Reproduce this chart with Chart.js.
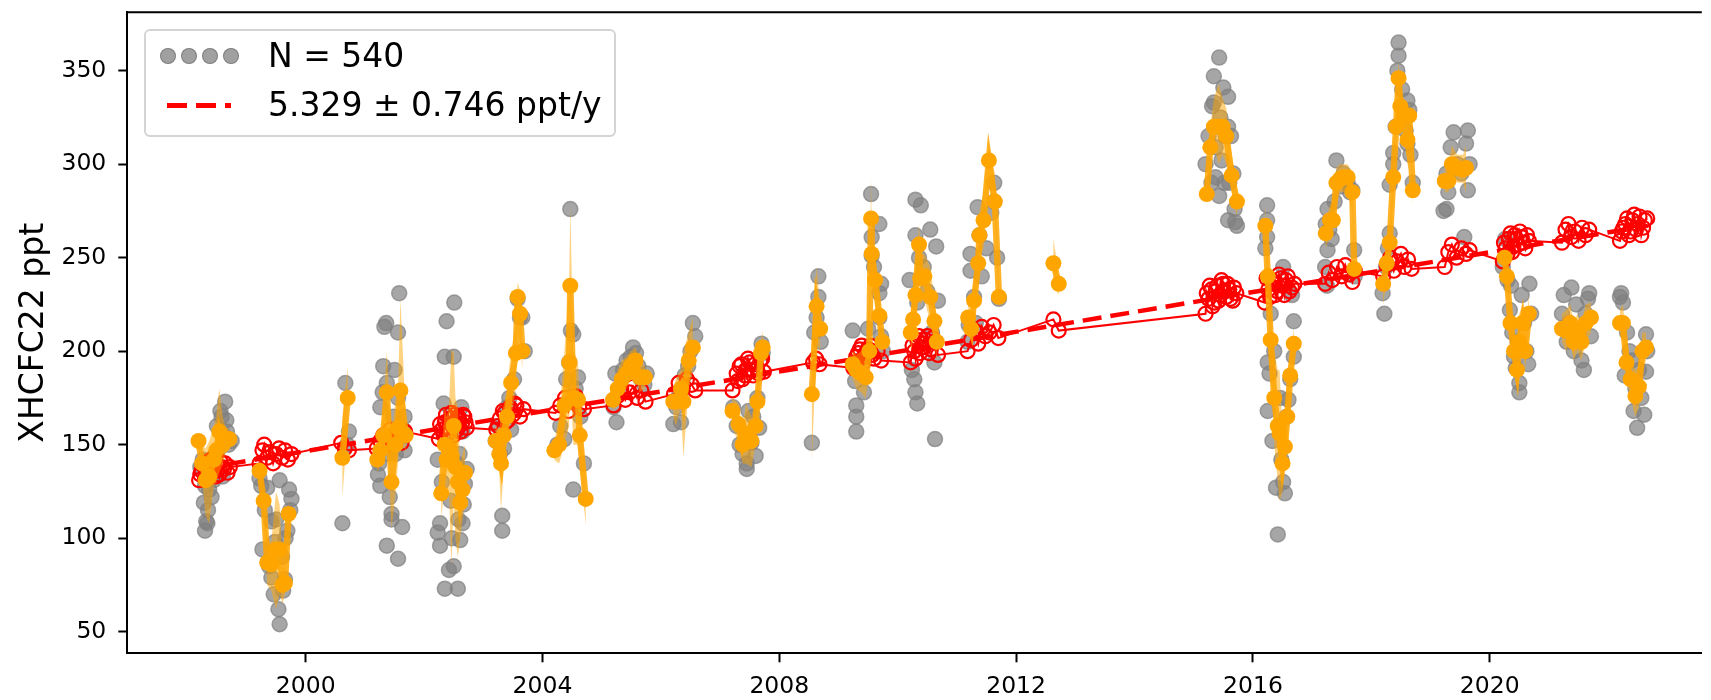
<!DOCTYPE html>
<html>
<head>
<meta charset="utf-8">
<title>XHCFC22 ppt</title>
<script src="https://cdn.jsdelivr.net/npm/chart.js@4.4.1/dist/chart.umd.min.js"></script>
<style>
  html, body { margin: 0; padding: 0; background: #fff; }
  #wrap { position: relative; width: 1711px; height: 700px; overflow: hidden; }
  #legend {
    position: absolute; left: 144px; top: 29px; width: 468px; height: 104px;
    border: 2px solid #d4d4d4; border-radius: 6px; background: rgba(255,255,255,0.8);
    font-family: "DejaVu Sans"; font-size: 33px; color: #000;
  }
  .dot { position: absolute; top: 17px; width: 14px; height: 14px; border-radius: 50%;
         background: rgba(150,150,150,0.9); border: 1px solid rgba(120,120,120,0.9); }
  .dash { position: absolute; left: 21px; top: 72px; width: 64px; height: 5px;
          background: repeating-linear-gradient(to right, #ff0000 0 20px, transparent 20px 29px); }
  .lbl { position: absolute; left: 122px; height: 40px; line-height: 40px; white-space: nowrap; }
</style>
</head>
<body>
<div id="wrap">
  <canvas id="myChart" width="1711" height="700"></canvas>
  <div id="legend">
    <div class="dot" style="left:14px"></div>
    <div class="dot" style="left:35px"></div>
    <div class="dot" style="left:56px"></div>
    <div class="dot" style="left:77px"></div>
    <div class="lbl" id="lbl1" style="top:5px"></div>
    <div class="dash"></div>
    <div class="lbl" id="lbl2" style="top:54px"></div>
  </div>
</div>
<script>
// axis setup
const xTicks = [2000, 2004, 2008, 2012, 2016, 2020];
const yTicks = [50, 100, 150, 200, 250, 300, 350];
const yTitle = 'XHCFC22 ppt';
const legendLabels = ['N = 540', '5.329 \u00b1 0.746 ppt/y'];

// individual measurements (grey)  [year, ppt]
const greyPoints = [
  [1998.28,119],[1998.30,104],[1998.32,109],[1998.34,108],[1998.22,138],[1998.26,142],[1998.30,128],[1998.37,126],
  [1998.41,122],[1998.45,131],[1998.48,145],[1998.52,147],[1998.56,168],[1998.60,133],[1998.64,173],[1998.66,163],
  [1998.67,157],[1998.70,150],[1998.75,152],[1998.50,160],[1998.58,165],[1998.62,155],[1998.40,135],[1998.35,115],
  [1999.22,132],[1999.25,128],[1999.27,94],[1999.31,115],[1999.35,127],[1999.38,85],[1999.42,79],[1999.42,109],
  [1999.46,70],[1999.50,110],[1999.54,62],[1999.56,54],[1999.56,131],[1999.60,90],[1999.62,72],[1999.65,78],
  [1999.69,104],[1999.72,126],[1999.76,121],[1999.74,115],[1999.48,98],[1999.66,100],
  [2000.62,108],[2000.67,183],[2000.73,157],[2000.70,150],
  [2001.22,134],[2001.24,140],[2001.26,128],[2001.26,170],[2001.30,178],[2001.31,192],[2001.33,213],[2001.36,215],
  [2001.37,183],[2001.37,96],[2001.40,145],[2001.45,113],[2001.45,110],[2001.48,165],[2001.52,145],[2001.56,89],
  [2001.56,175],[2001.56,210],[2001.58,231],[2001.63,106],[2001.67,165],[2001.67,147],[2001.65,158],[2001.42,122],[2001.50,190],
  [2002.23,142],[2002.23,103],[2002.27,108],[2002.27,96],[2002.30,130],[2002.33,172],[2002.35,197],[2002.35,73],
  [2002.38,216],[2002.40,150],[2002.42,83],[2002.45,120],[2002.50,85],[2002.50,197],[2002.51,226],[2002.55,140],
  [2002.57,73],[2002.58,110],[2002.61,99],[2002.63,170],[2002.65,108],[2002.65,157],[2002.69,129],[2002.72,137],
  [2002.47,100],[2002.60,145],[2002.67,118],[2002.53,162],
  [2003.21,152],[2003.24,160],[2003.28,145],[2003.32,112],[2003.32,104],[2003.35,148],[2003.40,170],[2003.47,158],
  [2003.52,185],[2003.58,228],[2003.62,218],[2003.66,218],[2003.70,200],[2003.44,175],
  [2004.25,150],[2004.30,160],[2004.37,153],[2004.40,185],[2004.45,194],[2004.47,276],[2004.48,211],[2004.52,209],
  [2004.52,126],[2004.56,180],[2004.60,186],[2004.64,165],[2004.70,140],
  [2005.20,170],[2005.23,188],[2005.25,162],[2005.30,178],[2005.36,190],[2005.42,195],[2005.49,197],[2005.53,202],
  [2005.58,199],[2005.62,192],[2005.66,185],[2005.72,182],[2005.76,188],
  [2006.21,161],[2006.26,170],[2006.31,177],[2006.34,162],[2006.40,187],[2006.46,192],[2006.50,200],[2006.54,215],[2006.58,208],
  [2007.22,170],[2007.28,160],[2007.33,150],[2007.38,145],[2007.45,137],[2007.45,140],[2007.49,155],[2007.53,151],
  [2007.56,165],[2007.60,144],[2007.63,175],[2007.66,159],[2007.70,204],[2007.72,199],[2007.48,168],
  [2008.55,151],[2008.59,210],[2008.63,218],[2008.66,229],[2008.66,240],[2008.70,205],
  [2009.24,211],[2009.28,184],[2009.30,157],[2009.30,165],[2009.30,171],[2009.36,195],[2009.43,178],[2009.50,212],
  [2009.55,284],[2009.56,261],[2009.56,251],[2009.60,245],[2009.69,268],[2009.69,231],[2009.69,218],[2009.72,236],
  [2009.72,208],[2009.75,200],
  [2010.20,238],[2010.24,190],[2010.28,185],[2010.30,178],[2010.30,281],[2010.30,262],[2010.33,172],[2010.33,226],
  [2010.36,250],[2010.39,278],[2010.44,245],[2010.50,232],[2010.55,265],[2010.62,194],[2010.63,153],[2010.65,256],
  [2010.68,227],[2010.58,210],
  [2011.18,205],[2011.20,214],[2011.23,252],[2011.23,243],[2011.29,229],[2011.32,215],[2011.35,277],[2011.38,262],
  [2011.42,240],[2011.50,255],[2011.58,274],[2011.63,290],[2011.63,280],[2011.68,250],[2011.71,228],
  [2015.20,300],[2015.25,315],[2015.31,331],[2015.34,347],[2015.34,333],[2015.37,309],[2015.37,293],[2015.41,320],
  [2015.43,357],[2015.43,283],[2015.47,302],[2015.50,341],[2015.54,315],[2015.58,336],[2015.58,320],[2015.58,270],
  [2015.60,290],[2015.63,315],[2015.67,295],[2015.69,276],[2015.70,269],[2015.73,267],[2015.30,290],[2015.45,325],[2015.52,290],
  [2016.21,255],[2016.24,278],[2016.24,270],[2016.24,261],[2016.25,194],[2016.28,188],[2016.25,168],[2016.30,220],
  [2016.33,152],[2016.36,200],[2016.39,127],[2016.42,102],[2016.43,160],[2016.48,142],[2016.51,130],[2016.51,245],
  [2016.54,124],[2016.57,165],[2016.60,174],[2016.63,185],[2016.66,230],[2016.69,216],[2016.69,197],[2016.46,175],
  [2017.22,245],[2017.23,268],[2017.26,276],[2017.26,254],[2017.29,265],[2017.33,260],[2017.38,280],[2017.41,302],
  [2017.47,288],[2017.53,295],[2017.60,290],[2017.64,285],[2017.68,286],[2017.71,254],[2017.72,240],[2017.25,235],
  [2018.19,231],[2018.22,220],[2018.25,245],[2018.31,263],[2018.31,289],[2018.37,306],[2018.37,300],[2018.41,320],
  [2018.44,350],[2018.46,365],[2018.46,358],[2018.52,340],[2018.58,318],[2018.61,334],[2018.61,311],[2018.64,329],
  [2018.66,305],[2018.70,290],[2018.28,255],
  [2019.22,275],[2019.27,295],[2019.27,276],[2019.30,285],[2019.34,309],[2019.39,317],[2019.45,300],[2019.52,295],
  [2019.57,261],[2019.60,311],[2019.63,318],[2019.63,286],[2019.66,300],
  [2020.22,245],[2020.26,260],[2020.30,238],[2020.34,222],[2020.38,210],[2020.41,197],[2020.44,191],[2020.47,205],
  [2020.50,183],[2020.50,178],[2020.54,230],[2020.58,215],[2020.62,200],[2020.65,193],[2020.67,236],[2020.70,220],[2020.36,235],
  [2021.22,220],[2021.25,230],[2021.30,205],[2021.34,215],[2021.38,234],[2021.42,200],[2021.46,225],[2021.50,210],
  [2021.55,195],[2021.59,190],[2021.62,220],[2021.66,228],[2021.68,231],[2021.71,208],
  [2022.20,229],[2022.22,231],[2022.25,226],[2022.28,187],[2022.32,210],[2022.36,200],[2022.40,195],[2022.43,168],
  [2022.46,180],[2022.49,159],[2022.52,190],[2022.56,175],[2022.61,166],[2022.64,189],[2022.64,209],[2022.66,200]
];

// daily means with spread, one list per campaign  [year, mean, low, high]
const orangeCampaigns = [
  [[1998.19,152,148,156],[1998.25,140,132,150],[1998.31,131,112,148],[1998.37,133,108,152],[1998.45,142,128,160],
   [1998.49,147,130,165],[1998.54,157,135,180],[1998.60,150,140,165],[1998.64,152,145,160],[1998.71,153,148,158]],
  [[1999.22,136,130,142],[1999.29,120,110,130],[1999.35,87,75,100],[1999.42,86,72,98],[1999.50,94,62,125],
   [1999.56,94,70,118],[1999.61,75,65,85],[1999.65,76,70,84],[1999.71,113,105,122]],
  [[2000.62,143,122,165],[2000.71,175,160,192]],
  [[2001.21,142,135,150],[2001.26,147,140,155],[2001.31,155,145,168],[2001.37,178,160,200],[2001.45,130,105,155],
   [2001.52,150,125,175],[2001.56,159,140,180],[2001.60,179,160,228],[2001.69,155,145,165]],
  [[2002.29,124,110,140],[2002.35,150,130,170],[2002.38,142,120,165],[2002.42,147,125,170],[2002.46,144,85,200],
   [2002.50,160,120,200],[2002.53,138,100,175],[2002.57,130,90,170],[2002.61,119,100,140],[2002.65,126,110,145],
   [2002.69,135,120,150]],
  [[2003.21,152,145,160],[2003.27,145,135,158],[2003.30,140,115,165],[2003.35,155,140,172],[2003.40,165,150,180],
   [2003.47,183,165,200],[2003.55,199,180,215],[2003.58,229,210,237],[2003.62,220,205,232],[2003.66,200,190,210]],
  [[2004.20,147,142,152],[2004.28,150,140,165],[2004.37,171,150,200],[2004.45,194,160,235],[2004.47,235,190,278],
   [2004.52,175,150,200],[2004.60,174,150,195],[2004.63,155,140,170],[2004.73,121,107,135]],
  [[2005.19,174,168,180],[2005.27,180,172,190],[2005.34,185,178,195],[2005.42,188,180,197],[2005.49,192,185,200],
   [2005.57,195,188,202],[2005.64,186,178,195],[2005.73,186,180,192]],
  [[2006.21,173,165,180],[2006.25,173,160,185],[2006.34,180,170,190],[2006.38,173,143,200],[2006.47,195,180,210],
   [2006.54,202,190,218]],
  [[2007.21,168,160,175],[2007.31,161,150,172],[2007.38,150,140,160],[2007.44,156,140,172],[2007.53,152,138,165],
   [2007.60,160,150,175],[2007.63,173,160,185],[2007.69,199,190,205],[2007.72,202,195,211]],
  [[2008.55,177,141,210],[2008.63,224,205,245],[2008.69,212,200,225]],
  [[2009.24,193,185,200],[2009.30,190,180,198],[2009.38,188,178,200],[2009.46,186,175,195],[2009.52,200,190,230],
   [2009.55,271,250,293],[2009.56,252,240,265],[2009.62,238,225,250],[2009.69,219,210,230],[2009.74,205,195,215]],
  [[2010.22,210,200,220],[2010.26,217,205,230],[2010.30,230,215,245],[2010.36,257,240,268],[2010.38,239,225,252],
   [2010.45,240,228,252],[2010.55,229,215,245],[2010.62,216,205,228],[2010.66,205,195,215]],
  [[2011.19,218,210,226],[2011.24,212,205,220],[2011.29,227,215,240],[2011.36,247,235,260],[2011.38,262,250,275],
   [2011.45,270,255,285],[2011.54,302,290,310],[2011.64,280,270,295],[2011.71,229,222,236]],
  [[2012.63,247,235,260],[2012.72,236,230,242]],
  [[2015.22,284,278,290],[2015.28,309,300,320],[2015.34,320,310,335],[2015.42,320,300,343],[2015.49,320,305,335],
   [2015.55,315,300,330],[2015.64,294,285,305],[2015.73,280,272,290]],
  [[2016.21,267,255,278],[2016.25,240,225,255],[2016.30,206,190,222],[2016.36,175,150,200],[2016.42,160,130,190],
   [2016.45,156,120,190],[2016.50,140,125,155],[2016.54,149,135,165],[2016.58,165,150,180],[2016.63,187,175,200],
   [2016.69,204,195,212]],
  [[2017.23,263,255,270],[2017.30,270,262,278],[2017.35,270,262,280],[2017.41,290,280,298],[2017.47,292,285,300],
   [2017.53,293,285,300],[2017.60,293,285,300],[2017.68,285,275,295],[2017.71,244,238,250]],
  [[2018.20,236,225,248],[2018.26,247,238,258],[2018.31,258,248,268],[2018.37,293,280,305],[2018.42,320,305,335],
   [2018.46,346,335,355],[2018.49,331,320,342],[2018.55,326,315,335],[2018.61,313,305,322],[2018.64,326,318,334],
   [2018.70,286,278,294]],
  [[2019.24,291,285,298],[2019.30,291,285,298],[2019.36,300,292,310],[2019.45,298,290,305],[2019.55,297,290,305],
   [2019.60,298,285,310]],
  [[2020.25,250,245,255],[2020.29,240,230,250],[2020.35,215,205,225],[2020.41,200,190,210],[2020.46,190,180,200],
   [2020.50,205,185,220],[2020.55,215,205,225],[2020.60,200,190,210],[2020.66,220,210,230]],
  [[2021.22,212,205,220],[2021.29,211,200,222],[2021.36,215,205,225],[2021.42,205,195,215],[2021.48,210,200,220],
   [2021.55,205,195,215],[2021.62,215,205,225],[2021.71,218,210,226]],
  [[2022.20,215,208,222],[2022.25,215,205,225],[2022.31,194,185,205],[2022.38,185,175,195],[2022.46,176,165,190],
   [2022.52,181,170,192],[2022.58,200,190,210],[2022.64,202,195,210]]
];

// deseasonalised values (red open circles)  [year, ppt]
const redPoints = [
  [1998.20,131],[1998.22,134],[1998.24,136],[1998.26,139],[1998.28,140],[1998.30,132],[1998.32,134],[1998.34,141],
  [1998.36,138],[1998.38,135],[1998.40,142],[1998.42,139],[1998.44,136],[1998.46,141],[1998.48,133],[1998.50,136],
  [1998.52,139],[1998.54,134],[1998.56,141],[1998.58,138],[1998.62,137],[1998.64,140],[1998.68,135],[1998.72,138],
  [1999.22,140],[1999.27,147],[1999.30,150],[1999.35,143],[1999.40,146],[1999.45,140],[1999.50,145],[1999.55,148],
  [1999.60,143],[1999.65,147],[1999.70,142],[1999.76,145],
  [2000.60,151],[2000.66,148],[2000.73,147],
  [2001.20,148],[2001.26,152],[2001.31,155],[2001.37,150],[2001.43,158],[2001.50,153],[2001.56,156],[2001.62,151],[2001.68,157],
  [2002.25,153],[2002.27,161],[2002.30,158],[2002.33,155],[2002.35,162],[2002.37,166],[2002.40,156],[2002.42,159],
  [2002.44,164],[2002.46,167],[2002.48,160],[2002.50,155],[2002.52,166],[2002.54,162],[2002.56,158],[2002.58,165],
  [2002.60,163],[2002.62,157],[2002.64,161],[2002.66,166],[2002.68,165],[2002.70,162],[2002.72,159],
  [2003.22,158],[2003.25,160],[2003.28,164],[2003.33,168],[2003.36,167],[2003.38,162],[2003.42,163],[2003.45,170],
  [2003.48,168],[2003.50,166],[2003.53,172],[2003.56,171],[2003.62,165],[2003.68,169],
  [2004.22,167],[2004.30,171],[2004.38,175],[2004.44,168],[2004.50,173],[2004.56,176],[2004.62,170],[2004.70,169],
  [2005.20,171],[2005.27,176],[2005.33,180],[2005.40,174],[2005.47,178],[2005.53,181],[2005.60,175],[2005.67,179],[2005.74,173],
  [2006.22,177],[2006.30,183],[2006.37,180],[2006.44,185],[2006.52,182],[2006.58,179],
  [2007.21,179],[2007.28,188],[2007.30,184],[2007.33,192],[2007.36,193],[2007.38,185],[2007.42,187],[2007.44,190],
  [2007.47,196],[2007.50,194],[2007.53,190],[2007.56,187],[2007.59,193],[2007.62,191],[2007.65,188],[2007.68,195],
  [2007.71,196],[2007.74,189],
  [2008.57,194],[2008.62,196],[2008.68,193],
  [2009.25,191],[2009.28,194],[2009.30,197],[2009.33,199],[2009.36,201],[2009.39,203],[2009.42,194],[2009.45,197],
  [2009.48,199],[2009.51,201],[2009.54,203],[2009.57,198],[2009.60,196],[2009.66,200],[2009.72,195],
  [2010.22,194],[2010.25,203],[2010.28,200],[2010.30,196],[2010.33,206],[2010.36,208],[2010.38,199],[2010.41,202],
  [2010.44,204],[2010.47,206],[2010.50,208],[2010.53,199],[2010.56,201],[2010.59,207],[2010.62,205],[2010.68,198],
  [2011.18,200],[2011.24,206],[2011.30,211],[2011.36,204],[2011.42,213],[2011.48,208],[2011.55,210],[2011.62,214],[2011.70,207],
  [2012.63,217],[2012.72,211],
  [2015.20,220],[2015.22,231],[2015.25,228],[2015.27,235],[2015.30,233],[2015.32,224],[2015.35,226],[2015.37,232],
  [2015.40,235],[2015.42,227],[2015.45,230],[2015.47,238],[2015.50,236],[2015.52,232],[2015.55,229],[2015.57,236],
  [2015.60,233],[2015.62,228],[2015.66,227],[2015.68,234],[2015.72,231],
  [2016.20,226],[2016.23,239],[2016.26,233],[2016.29,229],[2016.32,238],[2016.35,236],[2016.38,230],[2016.41,232],
  [2016.44,241],[2016.47,239],[2016.50,235],[2016.53,230],[2016.56,238],[2016.59,240],[2016.62,232],[2016.66,234],[2016.70,236],
  [2017.22,236],[2017.28,242],[2017.34,238],[2017.42,245],[2017.50,240],[2017.56,246],[2017.62,241],[2017.68,237],[2017.72,243],
  [2018.20,240],[2018.26,246],[2018.32,250],[2018.38,243],[2018.44,248],[2018.50,252],[2018.56,245],[2018.62,249],[2018.68,244],
  [2019.24,245],[2019.30,253],[2019.36,257],[2019.44,250],[2019.52,255],[2019.60,252],[2019.66,254],
  [2020.22,248],[2020.24,258],[2020.27,255],[2020.30,252],[2020.32,260],[2020.35,263],[2020.38,253],[2020.40,256],
  [2020.42,262],[2020.45,260],[2020.48,257],[2020.51,264],[2020.54,261],[2020.57,258],[2020.60,255],[2020.63,262],[2020.66,259],
  [2021.22,258],[2021.28,265],[2021.33,268],[2021.38,261],[2021.44,264],[2021.50,259],[2021.56,266],[2021.62,262],[2021.68,265],
  [2022.20,259],[2022.23,264],[2022.26,266],[2022.29,268],[2022.32,271],[2022.35,262],[2022.38,264],[2022.41,270],
  [2022.44,273],[2022.47,265],[2022.50,268],[2022.53,272],[2022.56,262],[2022.59,266],[2022.62,270],[2022.66,271]
];

// linear trend end points
const trendLine = [[1998.2, 137], [2022.66, 267]];

document.getElementById('lbl1').textContent = legendLabels[0];
document.getElementById('lbl2').textContent = legendLabels[1];

const xy = p => ({ x: p[0], y: p[1] });

// orange mean line, campaigns split by gaps
const orangeLine = [];
orangeCampaigns.forEach(c => {
  c.forEach(p => orangeLine.push({ x: p[0], y: p[1] }));
  orangeLine.push({ x: c[c.length - 1][0] + 0.01, y: null });
});

// one closed band per campaign
const bandSets = orangeCampaigns.map(c => ({
  data: c.map(p => ({ x: p[0], y: p[3] })).concat(c.slice().reverse().map(p => ({ x: p[0], y: p[2] }))),
  borderWidth: 0,
  borderColor: 'rgba(0,0,0,0)',
  backgroundColor: 'rgba(255,165,0,0.5)',
  pointRadius: 0,
  fill: 'shape',
  tension: 0
}));

const topSpine = {
  id: 'topSpine',
  afterDraw(chart) {
    const { ctx, chartArea } = chart;
    ctx.save();
    ctx.strokeStyle = '#000';
    ctx.lineWidth = 2;
    ctx.beginPath();
    ctx.moveTo(chartArea.left - 1, chartArea.top);
    ctx.lineTo(chartArea.right, chartArea.top);
    ctx.stroke();
    ctx.restore();
  }
};

const tickFont = { family: 'DejaVu Sans', size: 23.5 };

const ctx = document.getElementById('myChart').getContext('2d');
const myChart = new Chart(ctx, {
  type: 'line',
  data: {
    datasets: [
      {
        data: orangeLine,
        borderColor: 'rgba(255,165,0,0.85)',
        borderWidth: 6.5,
        pointRadius: 8,
        pointBackgroundColor: '#FFA500',
        pointBorderWidth: 0,
        spanGaps: false,
        fill: false
      },
      ...bandSets,
      {
        data: trendLine.map(xy),
        borderColor: '#ff0000',
        borderWidth: 4.5,
        borderDash: [19, 9],
        pointRadius: 0,
        fill: false
      },
      {
        data: redPoints.map(xy),
        borderColor: '#ff0000',
        borderWidth: 2,
        pointRadius: 7,
        pointBorderWidth: 2.2,
        pointBorderColor: '#ff0000',
        pointBackgroundColor: 'rgba(0,0,0,0)',
        fill: false
      },
      {
        data: greyPoints.map(xy),
        showLine: false,
        pointRadius: 7.5,
        pointBorderWidth: 1.5,
        pointBackgroundColor: 'rgba(128,128,128,0.7)',
        pointBorderColor: 'rgba(128,128,128,0.7)'
      }
    ]
  },
  options: {
    responsive: false,
    animation: false,
    devicePixelRatio: 1,
    layout: { padding: { left: 0, right: 0, top: 12.3, bottom: 0 } },
    plugins: { legend: { display: false }, tooltip: { enabled: false } },
    scales: {
      x: {
        type: 'linear',
        min: 1996.987,
        max: 2023.582,
        afterBuildTicks: s => { s.ticks = xTicks.map(v => ({ value: v })); },
        afterFit: s => { s.height = 46.7; s.paddingLeft = 0; s.paddingRight = 0; },
        ticks: { color: '#000', font: tickFont, padding: 10, maxRotation: 0, callback: v => String(v) },
        grid: { drawOnChartArea: false, color: '#000', tickLength: 9, tickWidth: 2 },
        border: { display: true, color: '#000', width: 2 }
      },
      y: {
        min: 38.45,
        max: 381.2,
        afterBuildTicks: s => { s.ticks = yTicks.map(v => ({ value: v })); },
        afterFit: s => { s.width = 127.3; s.paddingTop = 0; s.paddingBottom = 0; },
        ticks: { color: '#000', font: tickFont, padding: 12, callback: v => String(v) },
        grid: { drawOnChartArea: false, color: '#000', tickLength: 9, tickWidth: 2 },
        border: { display: true, color: '#000', width: 2 },
        title: {
          display: true,
          text: yTitle,
          color: '#000',
          font: { family: 'DejaVu Sans', size: 33 },
          padding: { top: 15, bottom: 0 }
        }
      }
    }
  },
  plugins: [topSpine]
});
</script>
</body>
</html>
